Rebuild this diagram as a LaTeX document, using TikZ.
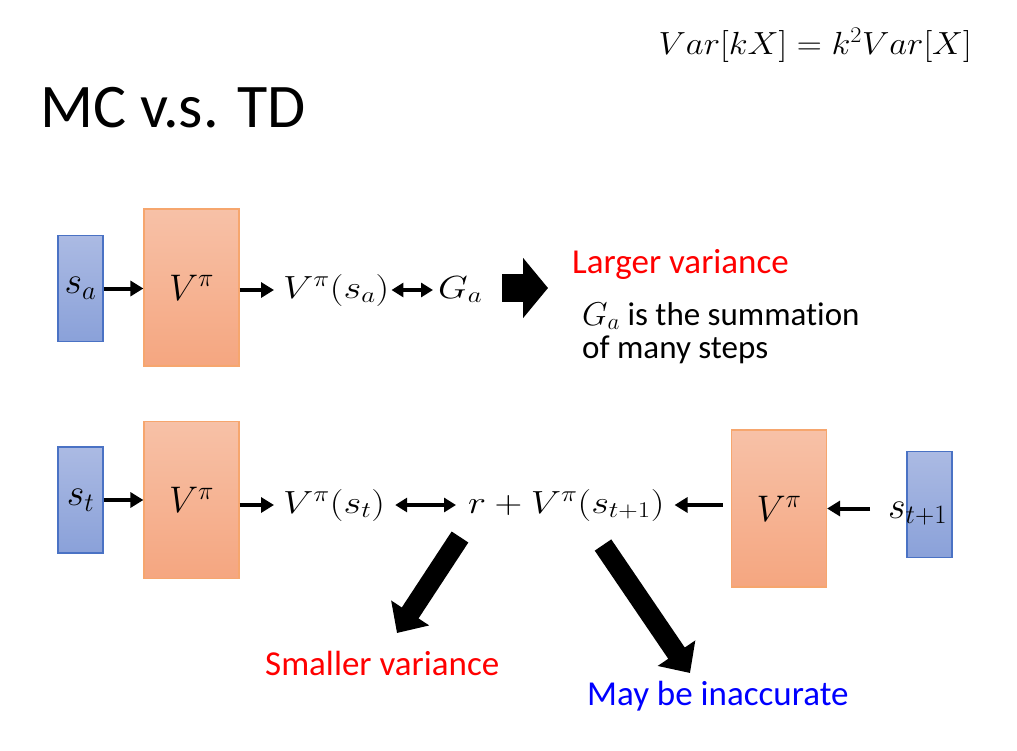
\RequirePackage{fix-cm}
\documentclass[tikz,border=0pt]{standalone}
\usepackage{fontspec}
\setmainfont{Carlito}[Ligatures=NoCommon]
\usepackage{graphicx}
\usetikzlibrary{arrows.meta}
\definecolor{bluetop}{HTML}{ABBAE3}
\definecolor{bluebot}{HTML}{8AA1D9}
\definecolor{bluebd}{HTML}{4A72C4}
\definecolor{ortop}{HTML}{F7C1A7}
\definecolor{orbot}{HTML}{F5A680}
\definecolor{orbd}{HTML}{F6A66E}
\newcommand\xw[2][1.2]{\scalebox{#1}[1]{#2}}
\tikzset{
  sbox/.style={draw=bluebd, line width=1.2pt, top color=bluetop, bottom color=bluebot,
    minimum width=45pt, minimum height=106pt, inner sep=0pt, font=\fontsize{38}{44}\selectfont},
  vbox/.style={draw=orbd, line width=1.2pt, top color=ortop, bottom color=orbot,
    minimum width=95pt, minimum height=157pt, inner sep=0pt, font=\fontsize{37}{44}\selectfont},
  mth/.style={inner sep=0pt, font=\fontsize{32}{38}\selectfont},
  arr/.style={line width=4pt, -{Triangle[length=13pt,width=15pt]}},
  darr/.style={line width=4pt, {Triangle[length=12pt,width=14pt]}-{Triangle[length=12pt,width=14pt]}},
  bigarr/.style={line width=20pt, -{Triangle[length=24pt,width=44pt]}},
  txt/.style={inner sep=0pt, anchor=base west},
  lbl/.style={txt, font=\fontsize{35}{42}\selectfont},
}
\begin{document}
\begin{tikzpicture}[x=1pt,y=-1pt]
\useasboundingbox (0,0) rectangle (1017,750);
\fill[white] (0,0) rectangle (1017,750);

% title and formula
\node[txt, font=\fontsize{62}{70}\selectfont] (title) at (40,127) {MC v.s. TD};
\node[mth, anchor=base east] (var) at (972,54) {\xw[1.085]{$Var[kX]=k^2Var[X]$}};

% MC row
\node[sbox] (sa) at (80.5,288.5) {$s_a$};
\node[vbox] (va) at (191.5,287.5) {$V^\pi$};
\node[mth, anchor=base west] (vsa) at (283,298) {\xw{$V^\pi(s_a)$}};
\node[mth, anchor=base west] (ga) at (438,298) {\xw{$G_a$}};
\draw[arr] (sa.east) -- (va.west |- sa.east);
\draw[arr, shorten >=9pt] (va.east |- vsa.west) -- (vsa.west);
\draw[darr, shorten <=2pt, shorten >=5pt] (vsa.east) -- (ga.west |- vsa.east);
\coordinate (ba1) at (502,288);
\coordinate (ba2) at (548,288);
\draw[line width=28pt, -{Triangle[length=25pt,width=59pt]}] (ba1) -- (ba2);
\node[lbl, text=red] (lv) at (572,273) {Larger variance};
\node[txt, font=\fontsize{33}{39}\selectfont] (sum1) at (582,325) {$G_a$ is the summation};
\node[txt, font=\fontsize{33}{39}\selectfont] (sum2) at (582,358) {of many steps};

% TD row
\node[sbox] (st) at (80.5,500) {$s_t$};
\node[vbox] (vt) at (191.5,500) {$V^\pi$};
\node[mth, anchor=base west] (vst) at (283,513) {\xw{$V^\pi(s_t)$}};
\node[mth, anchor=base west] (rv) at (468,513) {\xw{$r+V^\pi(s_{t+1})$}};
\node[vbox] (vr) at (779,508.5) {$V^\pi$};
\node[sbox] (s1box) at (929.5,504.5) {};
\node[mth, anchor=base west, font=\fontsize{38}{44}\selectfont] (s1) at (888,518) {$s_{t+1}$};
\draw[arr] (st.east) -- (vt.west |- st.east);
\draw[arr, shorten >=9pt] (vt.east |- vst.west) -- (vst.west);
\draw[darr, shorten <=10pt, shorten >=12pt] (vst.east) -- (rv.west |- vst.east);
\draw[arr, shorten <=8pt, shorten >=10pt] (vr.west |- rv.east) -- (rv.east);
\draw[arr, shorten <=18pt] (s1.west |- vr.east) -- (vr.east);

% thick arrows
\coordinate (c1) at (460,537);
\coordinate (c1t) at (397,633);
\coordinate (c2) at (603,545);
\coordinate (c2t) at (690,673);
\draw[bigarr] (c1) -- (c1t);
\draw[bigarr] (c2) -- (c2t);
\node[lbl, text=red] (sv) at (265,675) {Smaller variance};
\node[lbl, text=blue] (mb) at (587,705) {May be inaccurate};
\end{tikzpicture}
\end{document}
